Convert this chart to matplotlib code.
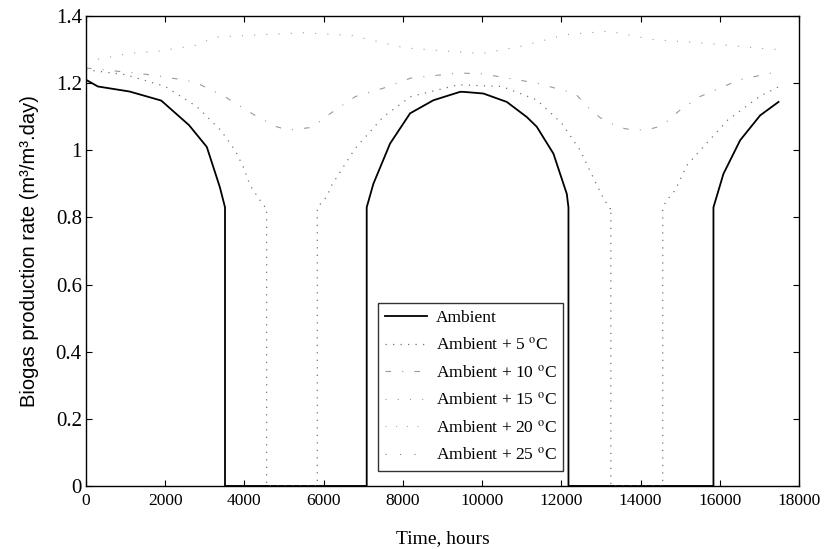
import numpy as np
import matplotlib
matplotlib.use("Agg")
import matplotlib.pyplot as plt

plt.rcParams['font.family'] = ['Liberation Serif', 'DejaVu Serif']
plt.rcParams['mathtext.fontset'] = 'stix'

# ---- data ----
t_amb = [0, 300, 1100, 1900, 2600, 3050, 3380, 3510, 3510, 7087, 7087, 7255, 7677, 8182, 8771,
         9444, 9528, 10033, 10623, 11128, 11380, 11800, 12138, 12180, 12180, 15840, 15840,
         16093, 16515, 17020, 17483]
y_amb = [1.21, 1.19, 1.175, 1.148, 1.075, 1.01, 0.89, 0.83, 0.0, 0.0, 0.83, 0.90, 1.02, 1.11, 1.149,
         1.174, 1.174, 1.169, 1.144, 1.099, 1.07, 0.99, 0.87, 0.83, 0.0, 0.0, 0.83,
         0.93, 1.03, 1.104, 1.144]

t_p5 = [0, 1000, 2000, 2800, 3400, 3763, 3973, 4141, 4394, 4520, 4560, 4560, 5840, 5840, 6077,
        6203, 6793, 7508, 8200, 9400, 10500, 11380, 12012, 12475, 12896, 13064, 13232, 13250,
        13250, 14560, 14560, 14663, 14873, 15168, 15547, 16200, 17000, 17500]
y_p5 = [1.24, 1.225, 1.19, 1.13, 1.06, 1.0, 0.95, 0.896, 0.851, 0.831, 0.83, 0.0, 0.0, 0.83, 0.861,
        0.896, 1.005, 1.10, 1.16, 1.195, 1.19, 1.15, 1.08, 1.0, 0.896, 0.856, 0.826, 0.83,
        0.0, 0.0, 0.83, 0.851, 0.881, 0.955, 1.005, 1.09, 1.16, 1.19]

t_p10 = [0, 1237, 1742, 2374, 2753, 3500, 4268, 4815, 5109, 5698, 6162, 6800, 7508, 8200, 9400,
         9990, 11380, 12348, 12685, 12980, 13316, 13611, 13905, 14200, 14452, 14705, 14957,
         15500, 16500, 17500]
y_p10 = [1.245, 1.23, 1.223, 1.211, 1.203, 1.16, 1.104, 1.07, 1.06, 1.068, 1.109, 1.16, 1.185, 1.215, 1.23,
         1.228, 1.2, 1.169, 1.127, 1.097, 1.077, 1.064, 1.06, 1.062, 1.07, 1.089, 1.116,
         1.16, 1.21, 1.235]

t_p15 = [0, 433, 1111, 1818, 2794, 3258, 4562, 5500, 6707, 8056, 9015, 9990, 11000, 12096,
         13200, 14280, 15500, 17100, 17500]
y_p15 = [1.265, 1.274, 1.289, 1.295, 1.313, 1.337, 1.345, 1.35, 1.342, 1.305, 1.296, 1.288, 1.31, 1.344,
         1.355, 1.33, 1.32, 1.303, 1.30]

t_p20 = [0, 2000, 4000, 6000, 8000, 10000, 12000, 14000, 16000, 17500]
y_p20 = [1.41, 1.42, 1.44, 1.44, 1.42, 1.41, 1.43, 1.44, 1.42, 1.41]

t_p25 = [0, 2000, 4000, 6000, 8000, 10000, 12000, 14000, 16000, 17500]
y_p25 = [1.45, 1.47, 1.49, 1.49, 1.46, 1.45, 1.48, 1.49, 1.47, 1.46]

labels = ['Ambient', 'Ambient + 5 $^{\\mathrm{o}}$C', 'Ambient + 10 $^{\\mathrm{o}}$C',
          'Ambient + 15 $^{\\mathrm{o}}$C', 'Ambient + 20 $^{\\mathrm{o}}$C', 'Ambient + 25 $^{\\mathrm{o}}$C']

x_ticks = [0, 2000, 4000, 6000, 8000, 10000, 12000, 14000, 16000, 18000]
y_ticks = [0, 0.2, 0.4, 0.6, 0.8, 1.0, 1.2, 1.4]
y_ticklabels = ['0', '0.2', '0.4', '0.6', '0.8', '1', '1.2', '1.4']

# ---- plot ----
fig = plt.figure(figsize=(8.33, 5.49), dpi=100)
ax = fig.add_axes([0.1032, 0.1148, 0.8560, 0.8561])

ax.plot(t_amb, y_amb, color='black', lw=1.3, label=labels[0])
ax.plot(t_p5, y_p5, color='0.45', lw=0.9, ls=(0, (1, 5)), label=labels[1])
ax.plot(t_p10, y_p10, color='0.6', lw=0.8, ls=(0, (5, 10, 1, 10)), label=labels[2])
ax.plot(t_p15, y_p15, color='0.62', lw=0.8, ls=(0, (1, 10)), label=labels[3])
ax.plot(t_p20, y_p20, color='0.6', lw=0.7, ls=(0, (1, 10)), label=labels[4])
ax.plot(t_p25, y_p25, color='0.5', lw=0.8, ls=(0, (1, 12)), label=labels[5])

ax.set_xlim(0, 18000)
ax.set_ylim(0, 1.4)
ax.set_xticks(x_ticks)
ax.set_xticklabels([str(v) for v in x_ticks])
ax.set_yticks(y_ticks)
ax.set_yticklabels(y_ticklabels)
ax.tick_params(direction='in', top=True, right=True, length=4, width=0.8)
ax.tick_params(axis='x', labelsize=12.5, pad=5)
ax.tick_params(axis='y', labelsize=15, pad=3)
for s in ax.spines.values():
    s.set_linewidth(1.0)

ax.set_xlabel('Time, hours', fontsize=14, labelpad=15)
ax.set_ylabel('Biogas production rate (m³/m³.day)', fontsize=14.5,
              family=['Liberation Sans Narrow', 'Liberation Sans', 'DejaVu Sans'], labelpad=12)

leg = ax.legend(loc='lower left', bbox_to_anchor=(0.41, 0.032, 0.259, 0.37), mode='expand',
                fontsize=12.5, frameon=True, fancybox=False, edgecolor='black',
                handlelength=2.4, borderpad=0.4, labelspacing=0.62, handletextpad=0.5,
                borderaxespad=0)
leg.get_frame().set_linewidth(1.0)

fig.savefig('out.png', dpi=100)
